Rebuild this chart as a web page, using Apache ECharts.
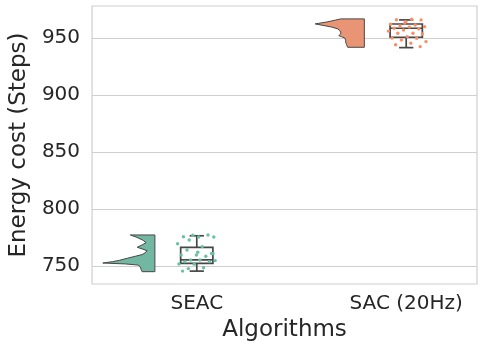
<!DOCTYPE html>
<html>
<head>
<meta charset="utf-8">
<script src="https://cdn.jsdelivr.net/npm/echarts@6/dist/echarts.min.js"></script>
<style>
html,body{margin:0;padding:0;background:#fff;}
#chart{width:484px;height:350px;}
</style>
</head>
<body>
<div id="chart"></div>
<script>
// ---- data ----
const categories = ['SEAC', 'SAC (20Hz)'];
const yTicks = [750, 800, 850, 900, 950];

// raw observations (jittered strip)
const seacPoints = [772.8, 775.4, 775.4, 775.6, 777.2, 777.0, 769.5, 767, 764, 761, 759.6, 759.6, 758.5,
  755.3, 754.7, 755.3, 753.8, 753.8, 751.6, 751.8, 748.5, 747.7, 761, 762, 745.5];
const sacPoints = [966.4, 966, 965.8, 964.3, 962, 961.4, 960.5, 959.9, 959.5, 958.5, 957.9, 957, 956,
  954.1, 954.1, 953.5, 951.1, 950, 949.7, 948.2, 946.8, 945.4, 944, 942.4, 963];

// box stats: [min, Q1, median, Q3, max]
const seacBox = [745.5, 752.3, 755.3, 766.4, 776.5];
const sacBox = [941.5, 950.6, 958.5, 962.2, 965.8];

// half-violin density profiles (value, relative density)
const seacViolinValues = [777.2, 775, 772.5, 770.4, 768.5, 766.4, 765, 763.4, 761.5, 760, 758.5, 756.8, 755, 753.8, 752.6, 751.8, 750.8, 749.4, 747, 745];
const seacViolinDensity = [25, 18, 12, 9, 13, 18, 13, 8, 10, 13, 20, 28, 36, 43, 53, 30, 17, 15, 14, 13];
const sacViolinValues = [966.7, 965.5, 964, 962.3, 961, 959.5, 957.9, 956.5, 955, 953.5, 952, 951, 950, 948, 946.2, 944, 941.8];
const sacViolinDensity = [24, 30, 38, 50, 42, 33, 27, 25, 24, 24, 26, 23, 20, 19, 19, 18, 17];

// ---- styling / layout constants ----
const pointColors = ['#66c2a5', '#fc8d62'];
const violinColors = ['#71b7a1', '#e99575'];
const lineColor = '#474747';
const VIOLIN_OFFSET = -0.2;
const VIOLIN_SCALE = 1 / 213;
const BOX_HALF = 0.077;
const CAP_HALF = 0.034;
const JITTER = 0.19;

const groupsPoints = [seacPoints, sacPoints];
const groupsBox = [seacBox, sacBox];
const groupsViolinV = [seacViolinValues, sacViolinValues];
const groupsViolinD = [seacViolinDensity, sacViolinDensity];

function jitter(i) {
  return (((i * 0.618034 + 0.31) % 1) - 0.5) * JITTER;
}

const chart = echarts.init(document.getElementById('chart'), null, {renderer: 'canvas'});

const violinSeries = {
  type: 'custom',
  data: categories.map((c, g) => [g, groupsViolinV[g][0]]),
  encode: {x: 0, y: 1},
  z: 2,
  renderItem: function (params, api) {
    const g = params.dataIndex;
    const vals = groupsViolinV[g], dens = groupsViolinD[g];
    const pts = [api.coord([g + VIOLIN_OFFSET, vals[0]])];
    for (let i = 0; i < vals.length; i++) {
      pts.push(api.coord([g + VIOLIN_OFFSET - dens[i] * VIOLIN_SCALE, vals[i]]));
    }
    pts.push(api.coord([g + VIOLIN_OFFSET, vals[vals.length - 1]]));
    return {
      type: 'polygon',
      shape: {points: pts},
      style: {fill: violinColors[g], stroke: lineColor, lineWidth: 1}
    };
  }
};

const boxSeries = {
  type: 'custom',
  data: categories.map((c, g) => [g].concat(groupsBox[g])),
  encode: {x: 0, y: [1, 2, 3, 4, 5]},
  z: 4,
  renderItem: function (params, api) {
    const g = params.dataIndex;
    const b = groupsBox[g];
    const st = {stroke: lineColor, lineWidth: 1.7, fill: null};
    const L = (x1, y1, x2, y2) => {
      const p1 = api.coord([x1, y1]), p2 = api.coord([x2, y2]);
      return {type: 'line', shape: {x1: p1[0], y1: p1[1], x2: p2[0], y2: p2[1]}, style: st};
    };
    const tl = api.coord([g - BOX_HALF, b[3]]), br = api.coord([g + BOX_HALF, b[1]]);
    return {
      type: 'group',
      children: [
        {type: 'rect', shape: {x: tl[0], y: tl[1], width: br[0] - tl[0], height: br[1] - tl[1]},
          style: {stroke: lineColor, lineWidth: 1.7, fill: 'rgba(255,255,255,0)'}},
        L(g - BOX_HALF, b[2], g + BOX_HALF, b[2]),
        L(g, b[3], g, b[4]),
        L(g, b[1], g, b[0]),
        L(g - CAP_HALF, b[4], g + CAP_HALF, b[4]),
        L(g - CAP_HALF, b[0], g + CAP_HALF, b[0])
      ]
    };
  }
};

const pointSeries = categories.map((c, g) => ({
  type: 'scatter',
  name: c,
  symbolSize: 3.4,
  z: 5,
  itemStyle: {color: pointColors[g], opacity: 1},
  data: groupsPoints[g].map((v, i) => [g + jitter(i + g * 7), v])
}));

const option = {
  animation: false,
  backgroundColor: '#ffffff',
  textStyle: {fontFamily: 'DejaVu Sans'},
  grid: {left: 86, right: 7, top: 6, bottom: 66, show: true, borderColor: '#cfcfcf', borderWidth: 1.2, backgroundColor: 'transparent'},
  xAxis: {
    type: 'value',
    min: -0.5,
    max: 1.338,
    name: 'Algorithms',
    nameLocation: 'middle',
    nameGap: 32,
    nameTextStyle: {fontSize: 23, color: '#262626', fontFamily: 'DejaVu Sans'},
    axisLine: {show: false},
    axisTick: {show: false, customValues: categories.map((c, i) => i)},
    splitLine: {show: false},
    axisLabel: {
      customValues: categories.map((c, i) => i),
      formatter: v => categories[Math.round(v)],
      fontSize: 20, color: '#262626', margin: 10, fontFamily: 'DejaVu Sans'
    }
  },
  yAxis: {
    type: 'value',
    min: 734.2,
    max: 978,
    name: 'Energy cost (Steps)',
    nameLocation: 'middle',
    nameGap: 56,
    nameTextStyle: {fontSize: 23, color: '#262626', fontFamily: 'DejaVu Sans'},
    axisLine: {show: false},
    axisTick: {show: false, customValues: yTicks},
    splitLine: {show: true, lineStyle: {color: '#cfcfcf', width: 1.2}},
    axisLabel: {customValues: yTicks, fontSize: 20, color: '#262626', margin: 12, fontFamily: 'DejaVu Sans'}
  },
  series: [violinSeries].concat(pointSeries, [boxSeries])
};
chart.setOption(option);
</script>
</body>
</html>
